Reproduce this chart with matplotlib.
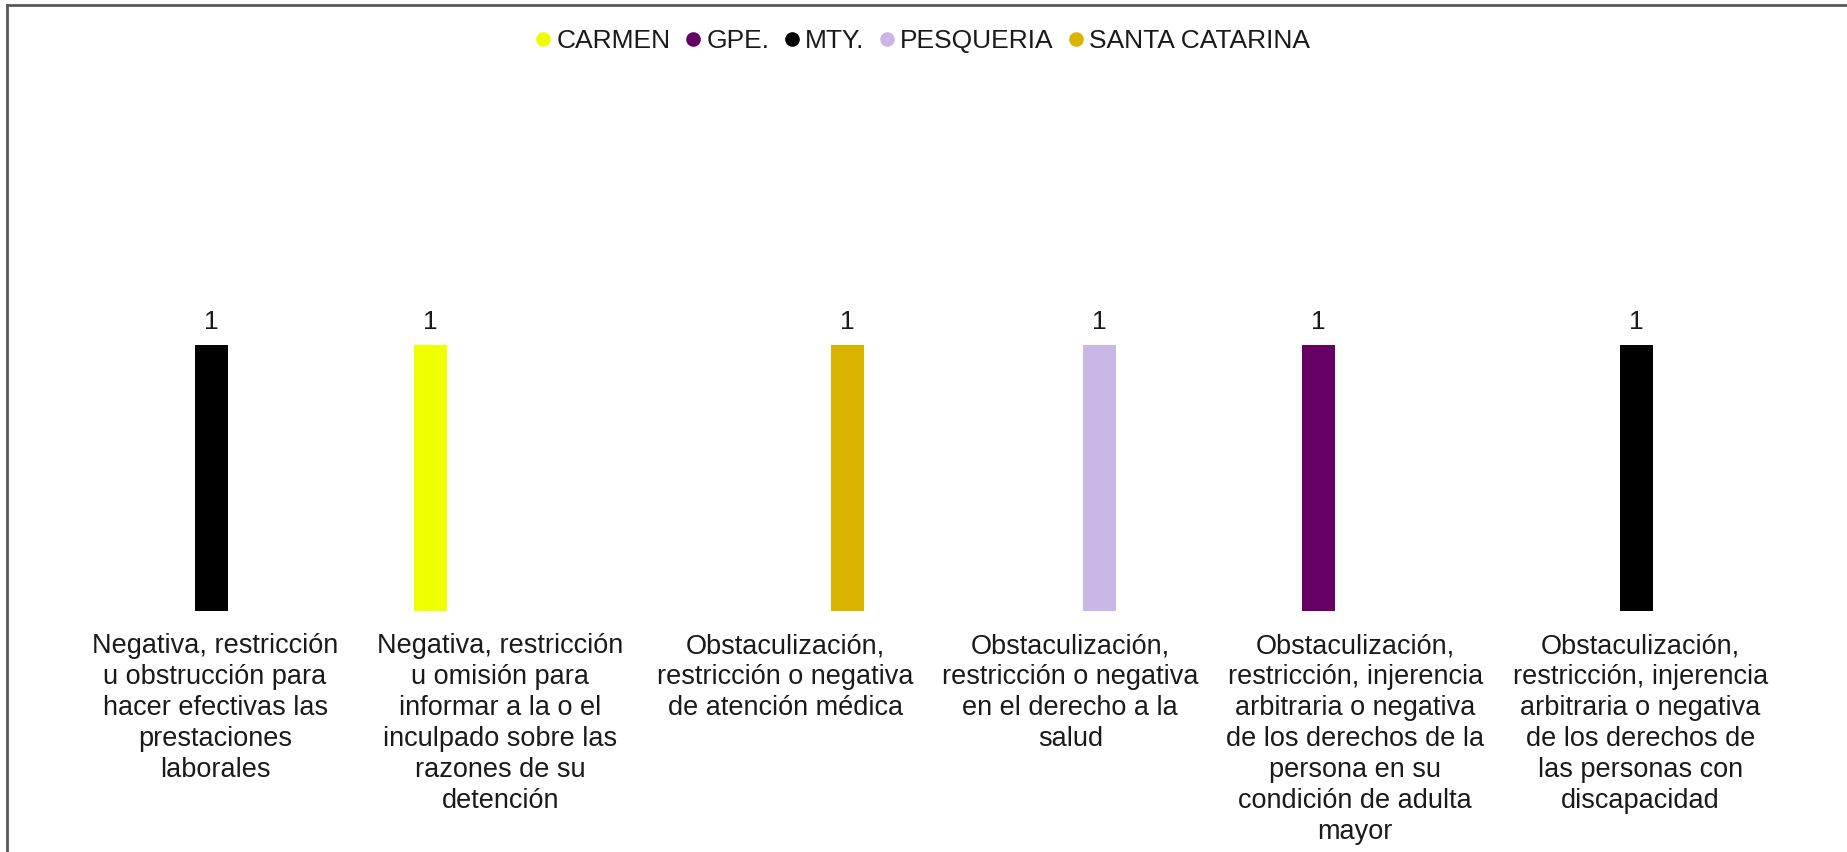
import matplotlib
matplotlib.use("Agg")
import matplotlib.pyplot as plt
from matplotlib.lines import Line2D
import numpy as np

plt.rcParams['font.family'] = ['Liberation Sans', 'DejaVu Sans']

# categories (already wrapped the way the original shows them)
categories = [
    "Negativa, restricción\nu obstrucción para\nhacer efectivas las\nprestaciones\nlaborales",
    "Negativa, restricción\nu omisión para\ninformar a la o el\ninculpado sobre las\nrazones de su\ndetención",
    "Obstaculización,\nrestricción o negativa\nde atención médica",
    "Obstaculización,\nrestricción o negativa\nen el derecho a la\nsalud",
    "Obstaculización,\nrestricción, injerencia\narbitraria o negativa\nde los derechos de la\npersona en su\ncondición de adulta\nmayor",
    "Obstaculización,\nrestricción, injerencia\narbitraria o negativa\nde los derechos de\nlas personas con\ndiscapacidad",
]

series_names = ["CARMEN", "GPE.", "MTY.", "PESQUERIA", "SANTA CATARINA"]
carmen = [0, 1, 0, 0, 0, 0]
gpe = [0, 0, 0, 0, 1, 0]
mty = [1, 0, 0, 0, 0, 1]
pesqueria = [0, 0, 0, 1, 0, 0]
santa_catarina = [0, 0, 1, 0, 0, 0]
series_values = [carmen, gpe, mty, pesqueria, santa_catarina]
colors = ["#eeff00", "#660066", "#000000", "#c9b8e6", "#d9b300"]

fig = plt.figure(figsize=(18.47, 8.52), dpi=100)
ax = fig.add_axes([0.0393, 0.283, 0.926, 0.4995])

x = np.arange(len(categories))
w = 0.116
for i, (name, vals, c) in enumerate(zip(series_names, series_values, colors)):
    bars = ax.bar(x + (i - 2) * w - 0.014, vals, width=w, color=c, label=name)
    labels = [str(v) if v else "" for v in vals]
    ax.bar_label(bars, labels=labels, padding=8, fontsize=19, color="#1a1a1a")

ax.set_xlim(-0.5, len(categories) - 0.5)
ax.set_ylim(0, 1.6)
ax.set_xticks(x)
ax.set_xticklabels(categories, fontsize=19.5, color="#1a1a1a", linespacing=1.25)
ax.tick_params(axis="x", length=0, pad=16)
ax.set_yticks([])
for s in ax.spines.values():
    s.set_visible(False)

# legend at the top, round markers
handles = [Line2D([], [], marker="o", linestyle="", markersize=9.5,
                  markerfacecolor=c, markeredgecolor=c) for c in colors]
fig.legend(handles, series_names, loc="center", bbox_to_anchor=(0.5, 0.952),
           ncol=5, frameon=False, fontsize=19, handlelength=0.5,
           handletextpad=0.25, columnspacing=0.6, labelcolor="#1a1a1a")

# outer frame (top and left edges are visible in the original)
fig.add_artist(Line2D([0.0038, 1], [0.994, 0.994], color="#5a5a5a", lw=2,
                      transform=fig.transFigure))
fig.add_artist(Line2D([0.0038, 0.0038], [0, 0.994], color="#5a5a5a", lw=2,
                      transform=fig.transFigure))

fig.savefig("out.png", dpi=100)
